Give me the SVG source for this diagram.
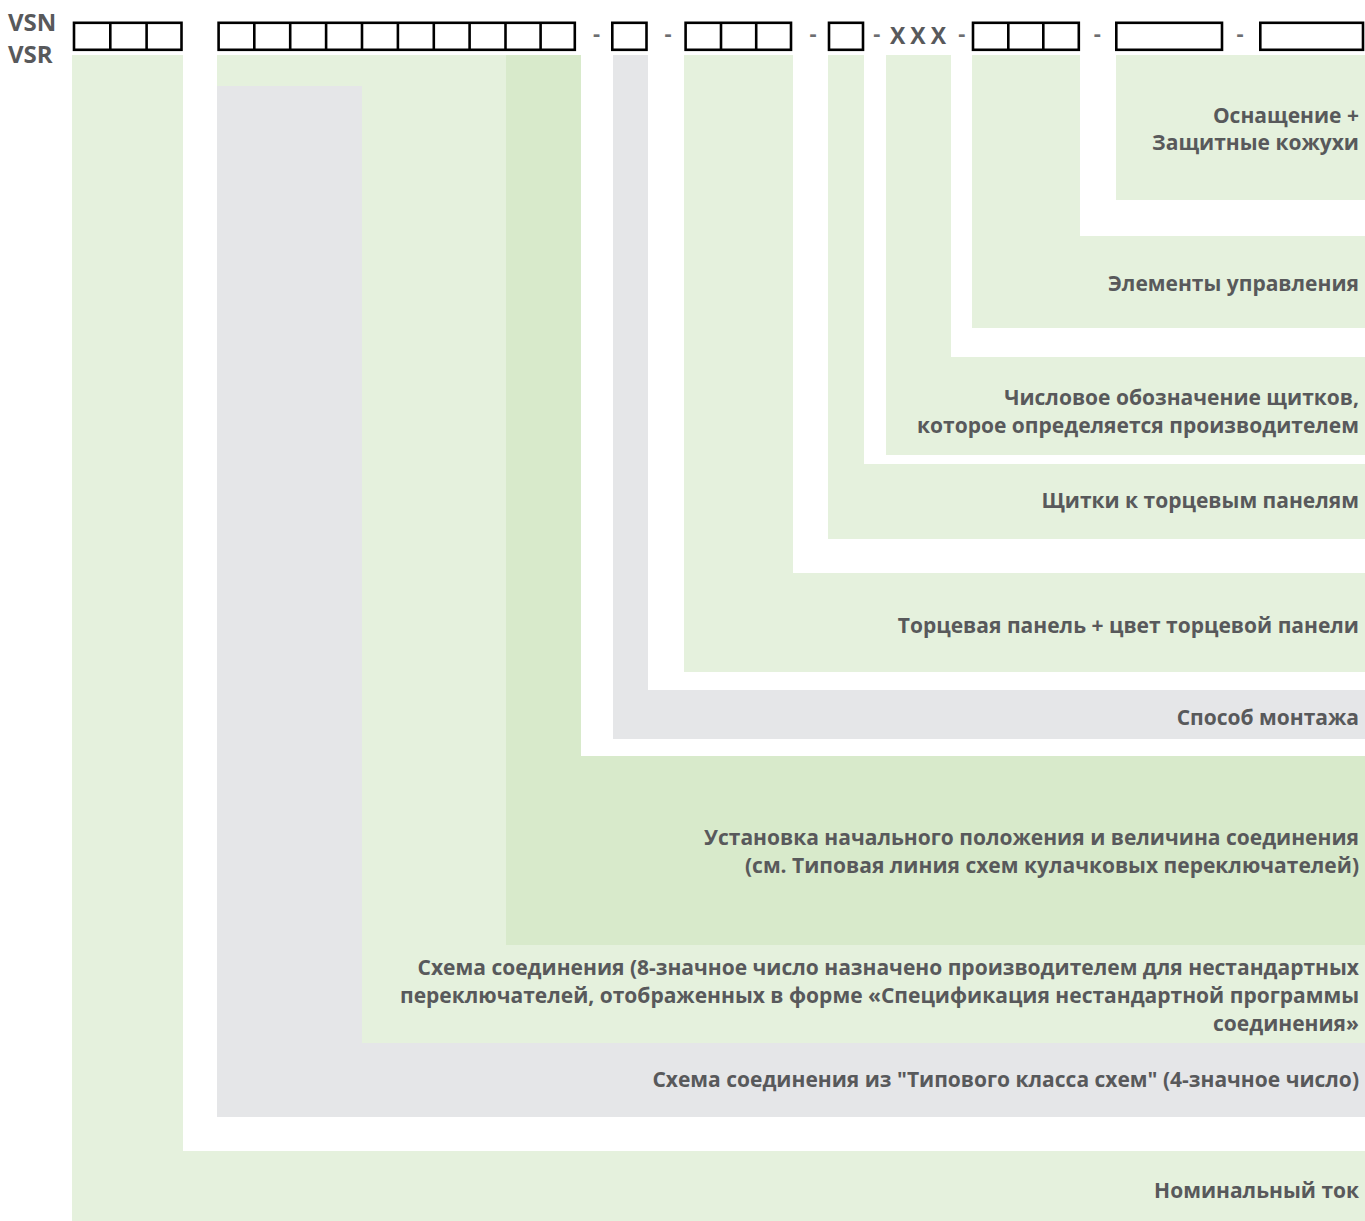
<svg xmlns="http://www.w3.org/2000/svg" width="1365" height="1221" viewBox="0 0 1365 1221">
<style>
.lg{fill:#e5f1dd}
.dg{fill:#d8eacb}
.gr{fill:#e5e6e8}
.t{font-family:"Open Sans","Noto Sans",sans-serif;font-weight:700;font-size:21px;fill:#58595b;text-anchor:end}
.hd{font-family:"Open Sans","Noto Sans",sans-serif;font-weight:700;fill:#58595b}
.dash{font-family:"Open Sans","Noto Sans",sans-serif;font-weight:700;font-size:22px;fill:#6d6e71;text-anchor:middle}
.box{fill:#fff;stroke:#000;stroke-width:2.6}
.dv{stroke:#000;stroke-width:2.6}
</style>
<rect width="1365" height="1221" fill="#fff"/>
<g id="header">
<text class="hd" x="8" y="31" font-size="24">VSN</text>
<text class="hd" x="8" y="63" font-size="24">VSR</text>
<rect class="box" x="74" y="22.8" width="107.5" height="27"/>
<line class="dv" x1="110.3" y1="22.8" x2="110.3" y2="49.8"/>
<line class="dv" x1="146.6" y1="22.8" x2="146.6" y2="49.8"/>
<rect class="box" x="218.6" y="22.8" width="356.2" height="27"/>
<line class="dv" x1="254.3" y1="22.8" x2="254.3" y2="49.8"/>
<line class="dv" x1="290.2" y1="22.8" x2="290.2" y2="49.8"/>
<line class="dv" x1="326.1" y1="22.8" x2="326.1" y2="49.8"/>
<line class="dv" x1="362" y1="22.8" x2="362" y2="49.8"/>
<line class="dv" x1="397.9" y1="22.8" x2="397.9" y2="49.8"/>
<line class="dv" x1="433.8" y1="22.8" x2="433.8" y2="49.8"/>
<line class="dv" x1="469.6" y1="22.8" x2="469.6" y2="49.8"/>
<line class="dv" x1="505.5" y1="22.8" x2="505.5" y2="49.8"/>
<line class="dv" x1="540.6" y1="22.8" x2="540.6" y2="49.8"/>
<text class="dash" x="596.5" y="41">-</text>
<rect class="box" x="612.3" y="22.8" width="34.2" height="27"/>
<text class="dash" x="668" y="41">-</text>
<rect class="box" x="685.6" y="22.8" width="105.4" height="27"/>
<line class="dv" x1="721" y1="22.8" x2="721" y2="49.8"/>
<line class="dv" x1="756.2" y1="22.8" x2="756.2" y2="49.8"/>
<text class="dash" x="813" y="41">-</text>
<rect class="box" x="829" y="22.8" width="34" height="27"/>
<text class="dash" x="876.7" y="41">-</text>
<text class="hd" x="890" y="44" font-size="23" letter-spacing="5" fill="#636466">XXX</text>
<text class="dash" x="961.7" y="41">-</text>
<rect class="box" x="973" y="22.8" width="105.8" height="27"/>
<line class="dv" x1="1008.3" y1="22.8" x2="1008.3" y2="49.8"/>
<line class="dv" x1="1043.3" y1="22.8" x2="1043.3" y2="49.8"/>
<text class="dash" x="1097.3" y="41">-</text>
<rect class="box" x="1116.3" y="22.8" width="105.7" height="27"/>
<text class="dash" x="1240" y="41">-</text>
<rect class="box" x="1260.3" y="22.8" width="102.7" height="27"/>
</g>
<g id="connectors"></g>
<g id="n-nominal">
<path class="lg" d="M72,55H183V1151H1365V1221H72Z"/>
<text class="t" x="1359" y="1198">Номинальный ток</text>
</g>
<g id="n-scheme4">
<path class="gr" d="M217,86H362V1043H1365V1117H217Z"/>
<text class="t" x="1359" y="1087">Схема соединения из "Типового класса схем" (4-значное число)</text>
</g>
<g id="n-scheme8">
<path class="lg" d="M217,55H506V945H1365V1043H362V86H217Z"/>
<text class="t" x="1359" y="975">Схема соединения (8-значное число назначено производителем для нестандартных</text>
<text class="t" x="1359" y="1003">переключателей, отображенных в форме «Спецификация нестандартной программы</text>
<text class="t" x="1359" y="1031">соединения»</text>
</g>
<g id="n-initial">
<path class="dg" d="M506,55H581V756H1365V945H506Z"/>
<text class="t" x="1359" y="845">Установка начального положения и величина соединения</text>
<text class="t" x="1359" y="873">(см. Типовая линия схем кулачковых переключателей)</text>
</g>
<g id="n-mounting">
<path class="gr" d="M613,55H648V690H1365V739H613Z"/>
<text class="t" x="1359" y="725">Способ монтажа</text>
</g>
<g id="n-endpanel">
<path class="lg" d="M684,55H793V573H1365V672H684Z"/>
<text class="t" x="1359" y="633">Торцевая панель + цвет торцевой панели</text>
</g>
<g id="n-shields">
<path class="lg" d="M828,55H864V464H1365V539H828Z"/>
<text class="t" x="1359" y="508">Щитки к торцевым панелям</text>
</g>
<g id="n-numeric">
<path class="lg" d="M886,55H951V357H1365V455H886Z"/>
<text class="t" x="1359" y="405">Числовое обозначение щитков,</text>
<text class="t" x="1359" y="433">которое определяется производителем</text>
</g>
<g id="n-controls">
<path class="lg" d="M972,55H1080V236H1365V328H972Z"/>
<text class="t" x="1359" y="291">Элементы управления</text>
</g>
<g id="n-equipment">
<path class="lg" d="M1116,55H1365V200H1116Z"/>
<text class="t" x="1359" y="123">Оснащение +</text>
<text class="t" x="1359" y="150">Защитные кожухи</text>
</g>
</svg>
